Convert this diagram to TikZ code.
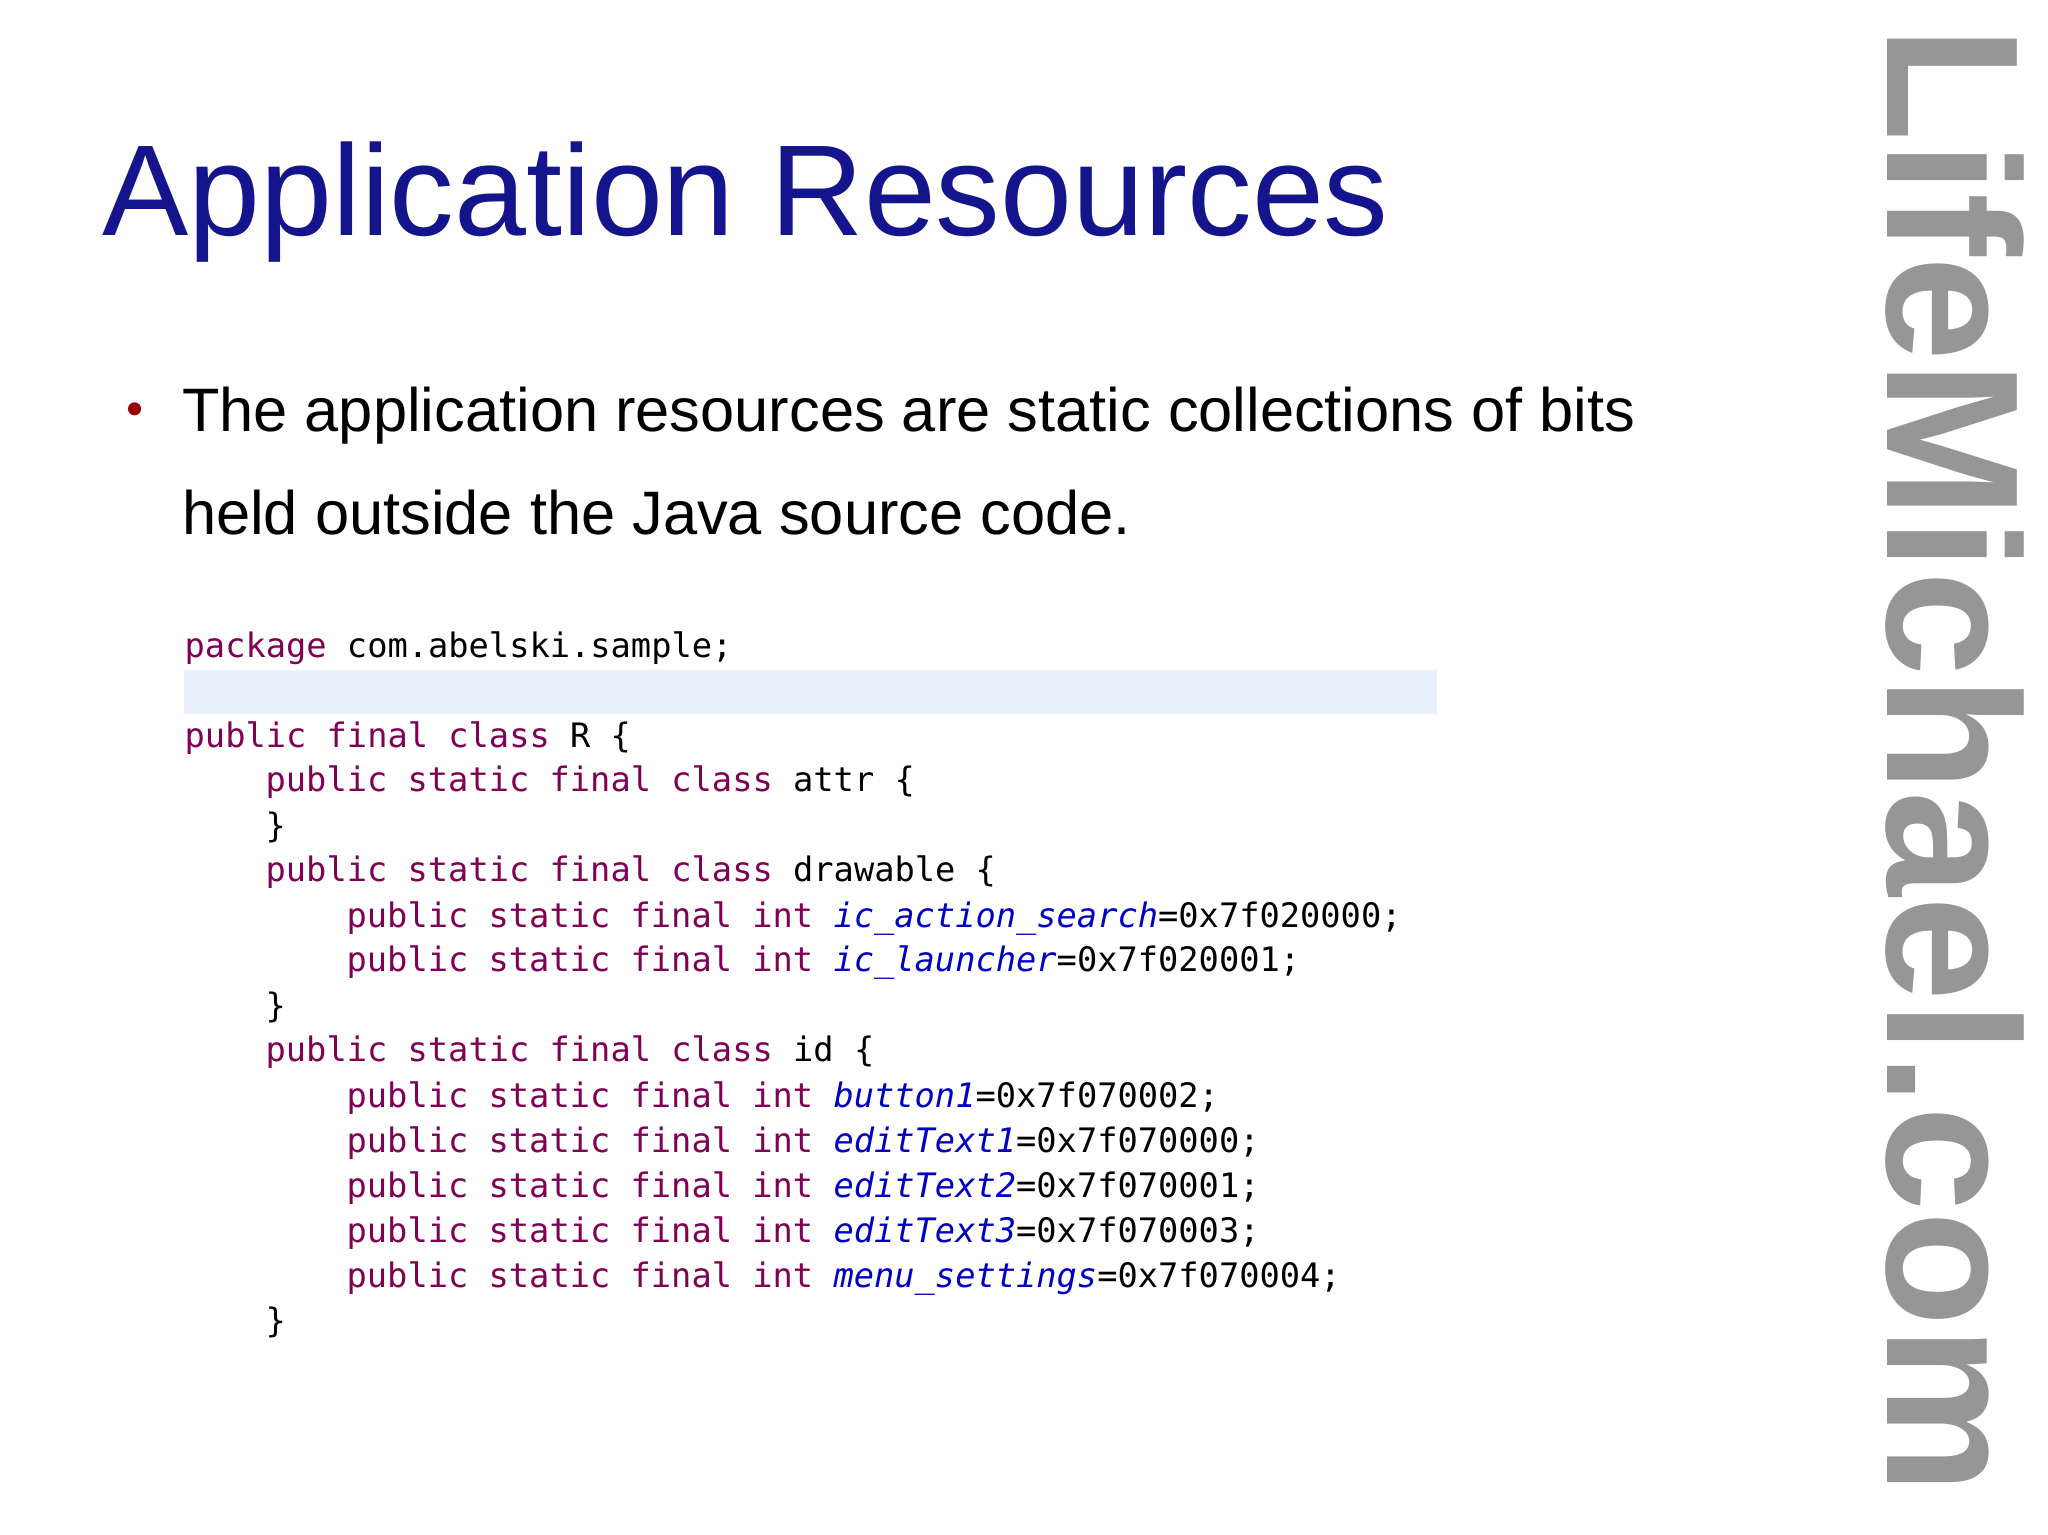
\documentclass[tikz,border=0pt]{standalone}
\usepackage{fontspec}
\setmainfont{Liberation Sans}
\newfontfamily\codefont{DejaVu Sans Mono}
\usepackage{graphicx}
\definecolor{titleblue}{RGB}{20,20,140}
\definecolor{kw}{RGB}{127,0,85}
\definecolor{fld}{RGB}{0,0,192}
\definecolor{band}{RGB}{232,240,251}
\definecolor{logo}{RGB}{150,150,150}
\begin{document}
\begin{tikzpicture}[x=0.5pt,y=-0.5pt,
  code/.style={anchor=base west,inner sep=0,font=\codefont\fontsize{12.9}{15}\selectfont},
  bl/.style={anchor=base west,inner sep=0,font=\fontsize{23.5}{28}\selectfont}]
\useasboundingbox (0,0) rectangle (1568,1175);
\fill[white] (0,0) rectangle (1568,1175);
\fill[band] (141,513) rectangle (1100,547);
\node[anchor=base west,inner sep=0,text=titleblue,font=\fontsize{49.5}{58}\selectfont] (title) at (78,180) {Application Resources};
\fill[red!60!black] (103,313) circle (5);
\node[bl] (b1) at (139,330) {The application resources are static collections of bits};
\node[bl] (b2) at (139,409) {held outside the Java source code.};
\newcommand{\kw}[1]{\textcolor{kw}{#1}}
\newcommand{\fl}[1]{\textcolor{fld}{\textit{#1}}}
\def\ps{\kw{public static final int} }
\node[code] (l1) at (141,503) {\kw{package} com.abelski.sample;};
\node[code] (l2) at (141,572) {\kw{public final class} R \{};
\node[code] (l3) at (203,606) {\kw{public static final class} attr \{};
\node[code] (l4) at (203,641) {\}};
\node[code] (l5) at (203,675) {\kw{public static final class} drawable \{};
\node[code] (l6) at (265,710) {\ps\fl{ic\_action\_search}=0x7f020000;};
\node[code] (l7) at (265,744) {\ps\fl{ic\_launcher}=0x7f020001;};
\node[code] (l8) at (203,779) {\}};
\node[code] (l9) at (203,813) {\kw{public static final class} id \{};
\node[code] (l10) at (265,848) {\ps\fl{button1}=0x7f070002;};
\node[code] (l11) at (265,882) {\ps\fl{editText1}=0x7f070000;};
\node[code] (l12) at (265,917) {\ps\fl{editText2}=0x7f070001;};
\node[code] (l13) at (265,951) {\ps\fl{editText3}=0x7f070003;};
\node[code] (l14) at (265,986) {\ps\fl{menu\_settings}=0x7f070004;};
\node[code] (l15) at (203,1020) {\}};
\node[rotate=-90,inner sep=0,text=logo,font=\bfseries\fontsize{70}{80}\selectfont] (logo) at (1497,582) {\resizebox{562pt}{!}{LifeMichael.com}};
\end{tikzpicture}
\end{document}
